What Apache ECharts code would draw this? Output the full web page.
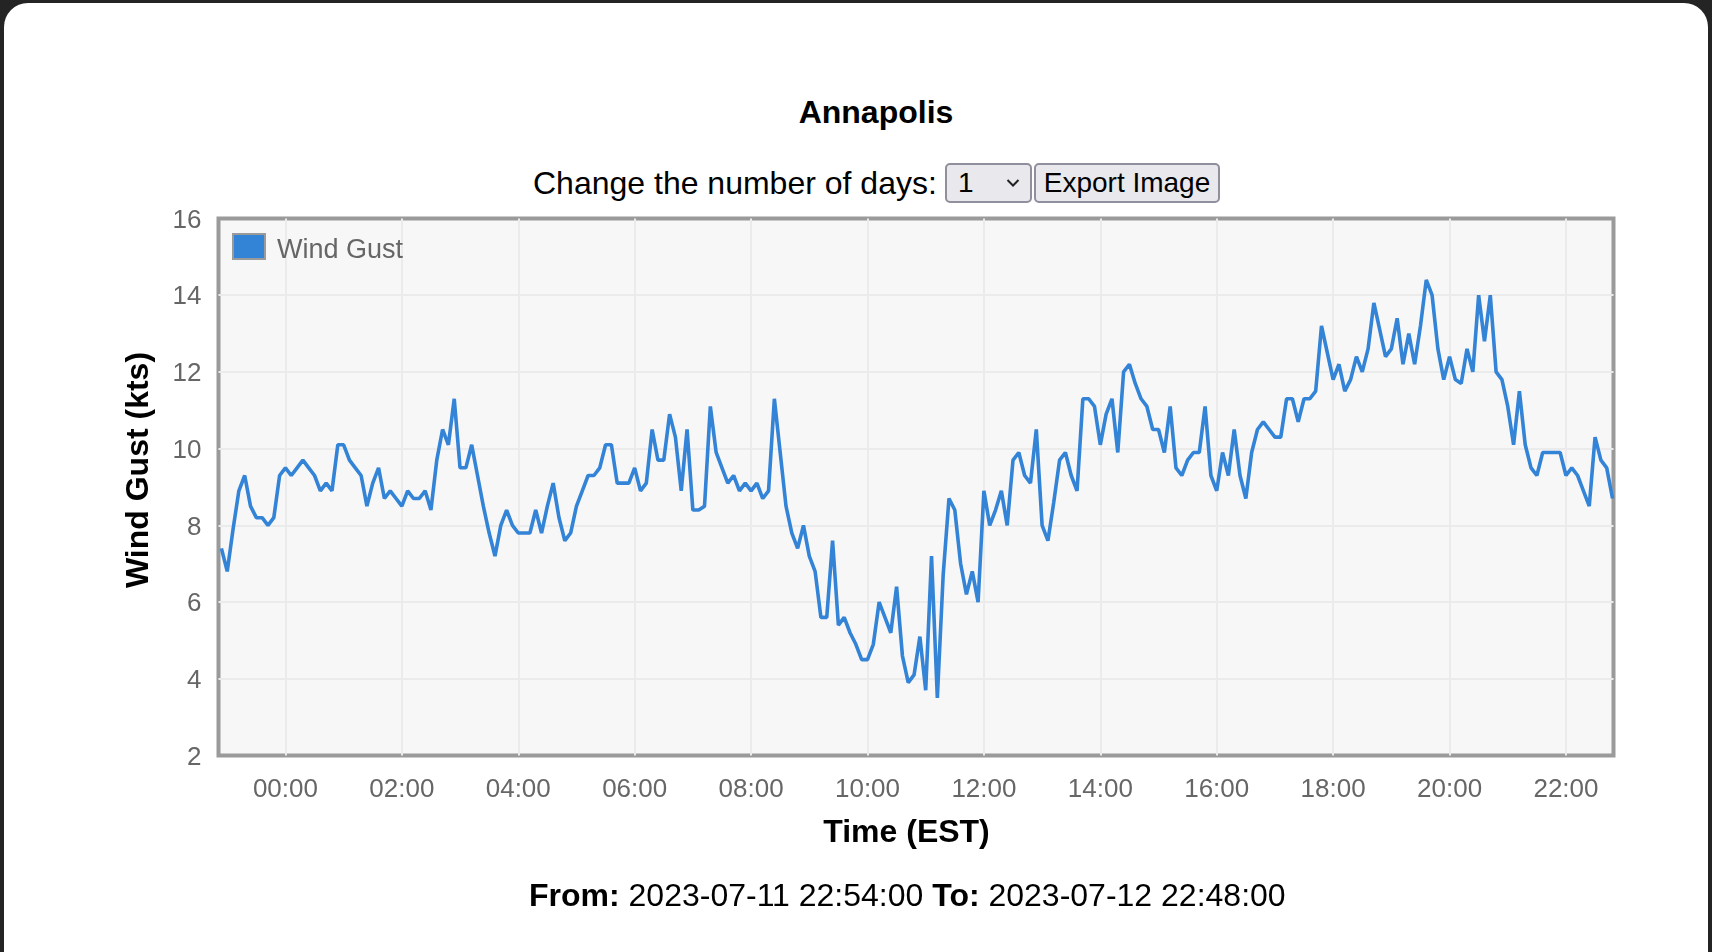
<!DOCTYPE html>
<html>
<head>
<meta charset="utf-8">
<script src="https://cdn.jsdelivr.net/npm/echarts@6/dist/echarts.min.js"></script>
<style>
  html, body { margin:0; padding:0; width:1712px; height:952px; overflow:hidden; background:#242424;
    font-family:"Liberation Sans", Arial, Helvetica, sans-serif; }
  #modal { position:absolute; left:4px; top:3px; width:1704px; height:1000px; background:#fff; border-radius:24px; }
  .txt { position:absolute; white-space:nowrap; line-height:40px; color:#000; }
  #title { left:476px; width:800px; top:92px; text-align:center; font-weight:bold; font-size:32px; }
  #daysLabel { left:533px; top:163px; font-size:32px; }
  #sel { position:absolute; left:945px; top:163px; width:83px; height:36px; background:#e9e9ed; border:2px solid #8f8f9d;
    border-radius:5px; font-size:28px; line-height:36px; }
  #sel span { position:absolute; left:11px; top:0; }
  #sel svg { position:absolute; left:59px; top:13px; }
  #btn { position:absolute; left:1034px; top:163px; width:182px; height:36px; background:#e9e9ed; border:2px solid #8f8f9d;
    border-radius:5px; font-size:28px; line-height:36px; text-align:center; }
  #range { left:529px; top:875px; font-size:32px; }
  #chart { position:absolute; left:0; top:0; width:1712px; height:952px; }
</style>
</head>
<body>
<div id="modal"></div>
<div id="title" class="txt">Annapolis</div>
<div id="daysLabel" class="txt">Change the number of days:</div>
<div id="sel"><span>1</span><svg width="14" height="10" viewBox="0 0 14 10"><polyline points="1.5,2 7,7.5 12.5,2" fill="none" stroke="#222" stroke-width="2"/></svg></div>
<div id="btn">Export Image</div>
<div id="chart"></div>
<div id="range" class="txt"><b>From:</b> 2023-07-11 22:54:00 <b>To:</b> 2023-07-12 22:48:00</div>
<script>
// ---- data ----
const seriesName = 'Wind Gust';
// first reading: 2023-07-11 22:54 = 66 minutes before midnight; one reading every 6 minutes
const startMinute = -66;
const stepMinutes = 6;
const windGust = [
  7.4, 6.8, 7.9, 8.9, 9.3, 8.5, 8.2, 8.2, 8.0, 8.2,
  9.3, 9.5, 9.3, 9.5, 9.7, 9.5, 9.3, 8.9, 9.1, 8.9,
  10.1, 10.1, 9.7, 9.5, 9.3, 8.5, 9.1, 9.5, 8.7, 8.9,
  8.7, 8.5, 8.9, 8.7, 8.7, 8.9, 8.4, 9.7, 10.5, 10.1,
  11.3, 9.5, 9.5, 10.1, 9.3, 8.5, 7.8, 7.2, 8.0, 8.4,
  8.0, 7.8, 7.8, 7.8, 8.4, 7.8, 8.5, 9.1, 8.2, 7.6,
  7.8, 8.5, 8.9, 9.3, 9.3, 9.5, 10.1, 10.1, 9.1, 9.1,
  9.1, 9.5, 8.9, 9.1, 10.5, 9.7, 9.7, 10.9, 10.3, 8.9,
  10.5, 8.4, 8.4, 8.5, 11.1, 9.9, 9.5, 9.1, 9.3, 8.9,
  9.1, 8.9, 9.1, 8.7, 8.9, 11.3, 9.9, 8.5, 7.8, 7.4,
  8.0, 7.2, 6.8, 5.6, 5.6, 7.6, 5.4, 5.6, 5.2, 4.9,
  4.5, 4.5, 4.9, 6.0, 5.6, 5.2, 6.4, 4.6, 3.9, 4.1,
  5.1, 3.7, 7.2, 3.5, 6.7, 8.7, 8.4, 7.0, 6.2, 6.8,
  6.0, 8.9, 8.0, 8.4, 8.9, 8.0, 9.7, 9.9, 9.3, 9.1,
  10.5, 8.0, 7.6, 8.6, 9.7, 9.9, 9.3, 8.9, 11.3, 11.3,
  11.1, 10.1, 10.9, 11.3, 9.9, 12.0, 12.2, 11.7, 11.3, 11.1,
  10.5, 10.5, 9.9, 11.1, 9.5, 9.3, 9.7, 9.9, 9.9, 11.1,
  9.3, 8.9, 9.9, 9.3, 10.5, 9.3, 8.7, 9.9, 10.5, 10.7,
  10.5, 10.3, 10.3, 11.3, 11.3, 10.7, 11.3, 11.3, 11.5, 13.2,
  12.5, 11.8, 12.2, 11.5, 11.8, 12.4, 12.0, 12.6, 13.8, 13.1,
  12.4, 12.6, 13.4, 12.2, 13.0, 12.2, 13.2, 14.4, 14.0, 12.6,
  11.8, 12.4, 11.8, 11.7, 12.6, 12.0, 14.0, 12.8, 14.0, 12.0,
  11.8, 11.1, 10.1, 11.5, 10.1, 9.5, 9.3, 9.9, 9.9, 9.9,
  9.9, 9.3, 9.5, 9.3, 8.9, 8.5, 10.3, 9.7, 9.5, 8.7
];
const tickLabels = ['00:00','02:00','04:00','06:00','08:00','10:00','12:00','14:00','16:00','18:00','20:00','22:00'];
const yTicks = [2, 4, 6, 8, 10, 12, 14, 16];

// ---- build ----
const FONT = '"Liberation Sans", Arial, Helvetica, sans-serif';
const LINE_COLOR = '#3383d6';
const tickMinutes = tickLabels.map(l => parseInt(l.slice(0, 2), 10) * 60);
const minutes = windGust.map((_, i) => startMinute + i * stepMinutes);
const seriesData = windGust.map((v, i) => [minutes[i], v]);

const chart = echarts.init(document.getElementById('chart'), null, { renderer: 'canvas' });
chart.setOption({
  animation: false,
  backgroundColor: 'transparent',
  textStyle: { fontFamily: FONT },
  grid: {
    left: 218.5, top: 218.5, width: 1395, height: 537,
    show: true, backgroundColor: '#f7f7f7', borderColor: '#9a9a9a', borderWidth: 4
  },
  legend: {
    data: [seriesName],
    left: 227, top: 228,
    icon: 'rect', itemWidth: 32, itemHeight: 25,
    itemStyle: { color: LINE_COLOR, borderColor: '#9a9a9a', borderWidth: 2 },
    formatter: name => '{t|' + name + '}',
    textStyle: {
      fontSize: 27, color: '#666', fontFamily: FONT, padding: [0, 0, 0, 7],
      rich: { t: { fontSize: 27, color: '#666', fontFamily: FONT, padding: [9, 0, 0, 0] } }
    }
  },
  xAxis: {
    type: 'value',
    min: -69, max: 1369,
    name: 'Time (EST)', nameLocation: 'middle', nameGap: 62,
    nameTextStyle: { fontSize: 32, fontWeight: 'bold', color: '#000', fontFamily: FONT, padding: [0, 19, 0, 0] },
    axisLine: { show: false },
    axisTick: { show: false, customValues: tickMinutes },
    axisLabel: {
      customValues: tickMinutes, margin: 21, fontSize: 26, color: '#666', fontFamily: FONT,
      formatter: v => tickLabels[tickMinutes.indexOf(v)] || ''
    },
    splitLine: { show: true, lineStyle: { color: '#ebebeb', width: 2 } }
  },
  yAxis: {
    type: 'value',
    min: yTicks[0], max: yTicks[yTicks.length - 1], interval: 2,
    name: 'Wind Gust (kts)', nameLocation: 'middle', nameRotate: 90, nameGap: 63,
    nameTextStyle: { fontSize: 32, fontWeight: 'bold', color: '#000', fontFamily: FONT, padding: [0, 0, 0, 34] },
    axisLine: { show: false },
    axisTick: { show: false },
    axisLabel: {
      margin: 17, fontSize: 26, color: '#666', fontFamily: FONT,
      formatter: v => '{n|' + v + '}',
      rich: { n: { fontSize: 26, color: '#666', fontFamily: FONT, padding: [4, 0, 0, 0] } }
    },
    splitLine: { show: true, showMinLine: false, showMaxLine: false, lineStyle: { color: '#ebebeb', width: 2 } }
  },
  series: [{
    name: seriesName,
    type: 'line',
    data: seriesData,
    showSymbol: false,
    symbol: 'none',
    lineStyle: { color: LINE_COLOR, width: 3.6 },
    itemStyle: { color: LINE_COLOR }
  }]
});
</script>
</body>
</html>
